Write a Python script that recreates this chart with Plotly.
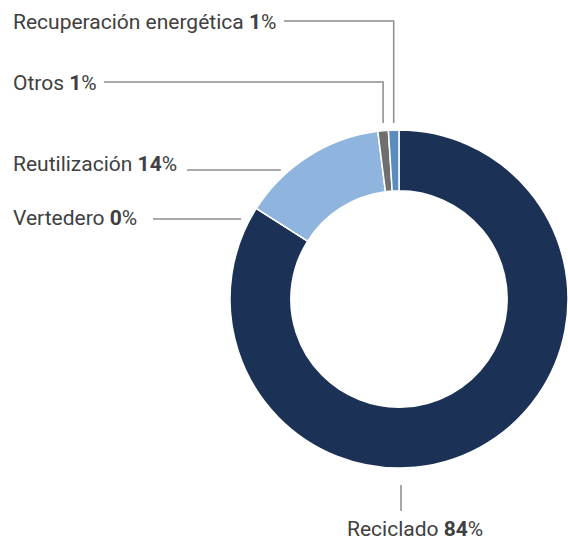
import numpy as np
import plotly.graph_objects as go

# Destino de los residuos (%)
categorias = ["Reciclado", "Vertedero", "Reutilización", "Otros", "Recuperación energética"]
valores = [84, 0, 14, 1, 1]
colores = ["#1c3156", "#a6a6a6", "#8fb5df", "#6f6f6f", "#5b8cbd"]

W, H = 568, 542
CX, CY, R = 399.0, 299.0, 169.0   # ring centre and outer radius in pixels
HOLE = 0.64
TXT = "#404040"
LINE = "#8c8c8c"
FONT = "Roboto, sans-serif"


def px(x):
    return x / W


def py(y):
    return 1 - y / H


fig = go.Figure(go.Pie(
    labels=categorias,
    values=valores,
    sort=False,
    direction="clockwise",
    rotation=0,
    hole=HOLE,
    textinfo="none",
    marker=dict(colors=colores, line=dict(color="white", width=1.5)),
    domain=dict(x=[px(CX - R), px(CX + R)], y=[py(CY + R), py(CY - R)]),
    showlegend=False,
))

# angles of each slice (clockwise from 12 o'clock)
total = float(sum(valores))
acum = np.cumsum([0] + valores[:-1]) / total
mid = np.radians(360 * (acum + np.array(valores) / total / 2))
idx = {c: i for i, c in enumerate(categorias)}


def etiqueta(nombre, valor):
    return f"{nombre} <b>{valor}</b>%"


shapes = []
annotations = []

# labels above the ring with elbow leader lines
arriba = [("Recuperación energética", 22, 21, 284), ("Otros", 83, 82, 104)]
for nombre, y_txt, y, x0 in arriba:
    i = idx[nombre]
    ax = CX + R * np.sin(mid[i])
    y_top = CY - R - 7
    shapes.append(dict(type="path", xref="paper", yref="paper",
                       path=f"M {px(x0)},{py(y)} L {px(ax)},{py(y)} L {px(ax)},{py(y_top)}",
                       line=dict(color=LINE, width=1.5)))
    annotations.append(dict(x=px(11), y=py(y_txt), xref="paper", yref="paper",
                            xanchor="left", yanchor="middle", showarrow=False,
                            text=etiqueta(nombre, valores[i])))

# labels to the left with horizontal leader lines
izquierda = [("Reutilización", 164, 170, 187), ("Vertedero", 218, 219, 153)]
for nombre, y_txt, y, x0 in izquierda:
    i = idx[nombre]
    borde = CX - np.sqrt(R ** 2 - (y - CY) ** 2)
    shapes.append(dict(type="line", xref="paper", yref="paper",
                       x0=px(x0), x1=px(borde - 9), y0=py(y), y1=py(y),
                       line=dict(color=LINE, width=1.5)))
    annotations.append(dict(x=px(11), y=py(y_txt), xref="paper", yref="paper",
                            xanchor="left", yanchor="middle", showarrow=False,
                            text=etiqueta(nombre, valores[i])))

# main category label below the ring
i = idx["Reciclado"]
shapes.append(dict(type="line", xref="paper", yref="paper",
                   x0=px(CX + 2), x1=px(CX + 2), y0=py(CY + R + 17), y1=py(CY + R + 43),
                   line=dict(color=LINE, width=1.5)))
annotations.append(dict(x=px(415), y=py(529), xref="paper", yref="paper",
                        xanchor="center", yanchor="middle", showarrow=False,
                        text=etiqueta("Reciclado", valores[i])))

fig.update_layout(
    width=W, height=H,
    margin=dict(l=0, r=0, t=0, b=0),
    paper_bgcolor="white",
    plot_bgcolor="white",
    font=dict(family=FONT, size=21, color=TXT),
    shapes=shapes,
    annotations=annotations,
)

fig.write_html("out.html")
